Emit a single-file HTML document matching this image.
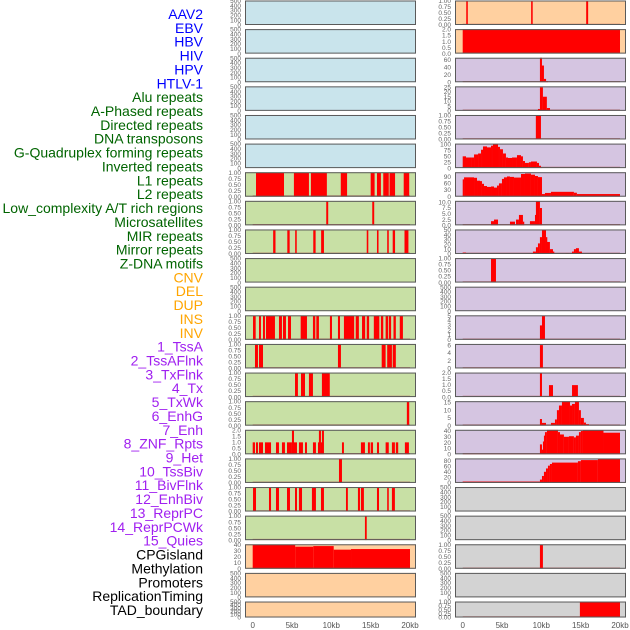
<!DOCTYPE html>
<html><head><meta charset="utf-8">
<style>
html,body{margin:0;padding:0;background:#fff;width:630px;height:630px;overflow:hidden}
svg{display:block}
.lab{font-family:"Liberation Sans",sans-serif;font-size:14px}
.tk{font-family:"Liberation Sans",sans-serif;font-size:6.5px;fill:#666}
.xt{font-family:"Liberation Sans",sans-serif;font-size:8px;fill:#555}
</style></head>
<body>
<svg id="chart" width="630" height="630" viewBox="0 0 630 630"></svg>
<script>
// ---------- labels ----------
const labelNames = ["AAV2","EBV","HBV","HIV","HPV","HTLV-1","Alu repeats","A-Phased repeats","Directed repeats","DNA transposons","G-Quadruplex forming repeats","Inverted repeats","L1 repeats","L2 repeats","Low_complexity A/T rich regions","Microsatellites","MIR repeats","Mirror repeats","Z-DNA motifs","CNV","DEL","DUP","INS","INV","1_TssA","2_TssAFlnk","3_TxFlnk","4_Tx","5_TxWk","6_EnhG","7_Enh","8_ZNF_Rpts","9_Het","10_TssBiv","11_BivFlnk","12_EnhBiv","13_ReprPC","14_ReprPCWk","15_Quies","CPGisland","Methylation","Promoters","ReplicationTiming","TAD_boundary"];
const labelGroups = [6,13,5,15,5];
const groupColors = ["#0000ff","#006400","#ffa500","#a020f0","#000000"];

// ---------- x axis ----------
const xTickValues = [0,5,10,15,20];
const xTickLabels = ["0","5kb","10kb","15kb","20kb"];

// ---------- tick label sets ----------
const T01 = ["0.00","0.25","0.50","0.75","1.00"];
const T500 = ["0","100","200","300","400","500"];
const T2 = ["0.0","0.5","1.0","1.5","2.0"];

// ---------- left column data [startKb, endKb, value] ----------
const leftL1 = [[0.42,3.98,1],[5.24,7.15,1],[7.4,9.43,1],[11.2,12.0,1],[15.0,15.5,1],[15.8,16.3,1],[16.6,17.3,1],[17.4,18.1,1],[19.2,19.9,1]];
const leftL2 = [[9.35,9.6,1],[15.2,15.45,1]];
const leftLowComplex = [[2.6,2.9,1],[4.4,4.7,1],[5.4,5.6,1],[7.7,8.0,1],[8.7,9.06,1],[14.5,14.7,1],[15.8,16.0,1],[17.1,17.3,1],[17.8,18.1,1],[19.3,19.8,1]];
const leftCNV = [[0.04,0.38,1],[0.8,1.05,1],[1.31,1.56,1],[1.69,2.83,1],[3.34,3.72,1],[3.85,4.23,1],[4.49,4.87,1],[6.1,6.9,1],[7.66,7.96,1],[8.09,8.42,1],[9.82,10.08,1],[10.84,11.1,1],[11.6,12.9,1],[13.1,13.5,1],[13.9,14.3,1],[14.5,14.8,1],[15.4,16.1,1],[16.3,16.6,1],[16.9,17.2,1],[17.3,17.6,1],[17.9,18.2,1],[18.7,19.1,1]];
const leftDEL = [[0.29,0.67,1],[0.8,1.31,1],[10.84,11.22,1],[16.4,16.9,1],[17.1,17.7,1],[17.8,18.2,1]];
const leftDUP = [[5.38,5.75,1],[6.14,6.65,1],[7.15,7.66,1],[8.8,9.8,1]];
const leftINS = [[19.6,19.9,1]];
const leftINV = [[0,0.29,1],[0.42,0.67,1],[0.8,1.31,1],[1.56,2.33,1],[2.96,3.34,1],[3.72,4.1,1],[4.36,4.99,1],[4.99,5.25,2],[5.25,5.63,1],[5.88,6.39,1],[6.65,6.9,1],[7.66,8.04,1],[8.3,8.42,1],[8.42,8.68,2],[8.68,8.8,1],[8.8,9.06,2],[11.35,11.6,1],[13.76,14.27,1],[14.65,14.9,1],[15.0,15.3,1],[15.8,16.06,1],[16.9,17.3,1],[17.7,18.08,1],[18.2,18.5,1],[19.35,19.86,1]];
const leftTssAFlnk = [[10.97,11.35,1]];
const leftTxFlnk = [[0.04,0.42,1],[2.07,2.33,1],[2.96,3.34,1],[4.36,4.74,1],[5.38,5.63,1],[5.88,6.27,1],[7.53,8.04,1],[8.68,9.06,1],[11.86,12.1,1],[13.38,13.64,1],[13.76,14.14,1],[15.8,16.06,1],[17.1,17.3,1],[17.7,18.08,1]];
const leftTx = [[14.27,14.5,1]];
const leftCPG = [[0,5.4,40],[5.4,7.7,37],[7.7,10.3,38],[10.3,12.5,32],[12.5,20,33]];

// ---------- right column data ----------
const rightAAV2 = [[0.45,0.65,1],[8.7,8.9,1],[15.7,15.95,1]];
const rightEBV = [[0,20,2.1]];
const rightHBV = [[9.82,10.08,70],[10.08,10.33,45],[10.33,10.6,9],[10.6,10.85,3]];
const rightHIV = [[9.57,9.82,2],[9.82,10.2,25],[10.2,10.7,15],[10.7,11.1,3]];
const rightHPV = [[9.3,9.95,1]];
const rightHTLV = [[0,0.42,50],[0.42,1.06,45],[1.06,1.44,45],[1.44,1.95,58],[1.95,2.33,62],[2.33,2.58,78],[2.58,3.09,92],[3.09,3.6,88],[3.6,3.85,95],[3.85,4.49,102],[4.49,4.74,90],[4.74,5.12,80],[5.12,5.5,62],[5.5,5.76,45],[5.76,6.27,43],[6.27,6.9,45],[6.9,7.41,55],[7.41,7.66,50],[7.66,7.92,30],[7.92,8.42,22],[8.42,8.68,25],[8.68,9.44,28],[9.44,9.7,22],[9.7,9.95,10],[9.95,10.08,4]];
const rightAlu = [[0,0.17,78],[0.17,1.44,87],[1.44,1.82,85],[1.82,2.2,72],[2.2,2.45,70],[2.45,2.71,58],[2.71,3.09,48],[3.09,3.6,44],[3.6,3.98,46],[3.98,4.36,41],[4.36,4.61,50],[4.61,4.99,60],[4.99,5.25,80],[5.25,5.63,87],[5.63,6.01,91],[6.01,6.52,89],[6.52,7.41,86],[7.41,7.92,102],[7.92,8.68,104],[8.68,9.19,99],[9.19,9.57,93],[9.57,10.08,88],[10.08,10.46,12],[10.46,11.22,17],[11.22,14.14,22],[14.14,14.52,18],[14.52,20,12]];
const rightAPhased = [[3.6,3.98,1.8],[3.98,4.49,2.5],[6.01,6.65,1.6],[6.78,7.15,2.5],[7.15,7.66,4.5],[7.66,7.79,1.6],[8.55,9.19,1.8],[9.19,9.31,4.5],[9.31,9.82,10.5],[9.82,10.08,7.5]];
const rightDirected = [[0,0.42,3],[0.42,0.67,1.5],[8.68,8.93,2],[8.93,9.31,5],[9.31,9.57,14],[9.57,9.82,22],[9.82,10.08,35],[10.08,10.59,50],[10.59,10.71,35],[10.71,11.09,25],[11.09,11.48,10],[11.48,11.6,5],[13.1,13.5,2],[13.9,14.14,5],[14.14,14.4,10],[14.4,14.78,12],[14.78,15.16,5]];
const rightDNA = [[3.6,4.23,1]];
const rightInverted = [[9.82,10.08,3],[10.08,10.46,5]];
const rightL1b = [[9.82,10.2,6]];
const rightL2b = [[9.82,10.08,2],[10.97,11.48,1],[13.9,14.65,1]];
const rightLowC = [[9.82,10.08,4.3],[10.08,10.59,1.8],[10.59,11.22,0.5],[11.22,11.73,1.8],[11.73,11.98,4],[11.98,12.24,10],[12.24,12.62,13],[12.62,13.64,15.8],[13.64,13.9,13],[13.9,14.27,14],[14.27,14.78,15.8],[14.78,15.03,10],[15.03,15.41,5],[15.41,15.67,2],[15.67,16.06,1]];
const rightMicro = [[0,9.82,0.5],[9.82,10.08,17],[10.08,10.2,8],[10.2,10.33,22],[10.33,10.46,32],[10.46,10.71,38],[10.71,12.11,42],[12.11,12.37,38],[12.37,12.87,34],[12.87,13.51,30],[13.51,14.14,31],[14.14,14.4,29],[14.4,14.78,32],[14.78,15.03,38],[15.03,15.29,40],[15.29,17.9,41],[17.9,20,37]];
const rightMIR = [[0,9.82,5],[9.82,10.08,12],[10.08,10.33,25],[10.33,10.59,40],[10.59,10.84,52],[10.84,11.09,62],[11.09,11.35,68],[11.35,14.65,73],[14.65,15.03,78],[15.03,17.19,82],[17.19,20,86]];
const rightMethyl = [[9.82,10.2,1]];
const rightTAD = [[14.9,20,1]];

// ---------- panel specs ----------
const BG = {blue:"#c9e4ec",green:"#c8e0a5",orange:"#ffd0a0",purple:"#d5c5e1",gray:"#d3d3d3"};
const leftPanels = [
 {n:"aav2",bg:"blue",t:T500,m:510,d:null},
 {n:"ebv",bg:"blue",t:T500,m:510,d:null},
 {n:"hbv",bg:"blue",t:T500,m:510,d:null},
 {n:"hiv",bg:"blue",t:T500,m:510,d:null},
 {n:"hpv",bg:"blue",t:T500,m:510,d:null},
 {n:"htlv",bg:"blue",t:T500,m:510,d:null},
 {n:"l1",bg:"green",t:T01,m:1.02,d:leftL1},
 {n:"l2",bg:"green",t:T01,m:1.02,d:leftL2},
 {n:"low-complexity",bg:"green",t:T01,m:1.02,d:leftLowComplex},
 {n:"empty-1",bg:"green",t:T500,m:510,d:null},
 {n:"empty-2",bg:"green",t:T500,m:510,d:null},
 {n:"cnv",bg:"green",t:T01,m:1.02,d:leftCNV},
 {n:"del",bg:"green",t:T01,m:1.02,d:leftDEL},
 {n:"dup",bg:"green",t:T01,m:1.02,d:leftDUP},
 {n:"ins",bg:"green",t:T01,m:1.02,d:leftINS},
 {n:"inv",bg:"green",t:T2,m:2.05,d:leftINV},
 {n:"tssaflnk",bg:"green",t:T01,m:1.02,d:leftTssAFlnk},
 {n:"txflnk",bg:"green",t:T01,m:1.02,d:leftTxFlnk},
 {n:"tx",bg:"green",t:T01,m:1.02,d:leftTx},
 {n:"cpg",bg:"orange",t:["0","10","20","30","40"],m:41,d:leftCPG},
 {n:"promoters",bg:"orange",t:T500,m:510,d:null},
 {n:"tad",bg:"orange",t:T500,m:510,d:null}
];
const rightPanels = [
 {n:"aav2",bg:"orange",t:T01,m:1.02,d:rightAAV2},
 {n:"ebv",bg:"orange",t:T2,m:2.05,d:rightEBV},
 {n:"hbv",bg:"purple",t:["0","20","40","60"],m:66,d:rightHBV},
 {n:"hiv",bg:"purple",t:["0","5","10","15","20","25"],m:26,d:rightHIV},
 {n:"hpv",bg:"purple",t:T01,m:1.02,d:rightHPV},
 {n:"htlv",bg:"purple",t:["0","25","50","75","100"],m:104,d:rightHTLV},
 {n:"alu",bg:"purple",t:["0","30","60","90"],m:110,d:rightAlu},
 {n:"aphased",bg:"purple",t:["0.0","2.5","5.0","7.5","10.0"],m:10.6,d:rightAPhased},
 {n:"directed",bg:"purple",t:["0","10","20","30","40","50"],m:51,d:rightDirected},
 {n:"dna",bg:"purple",t:T01,m:1.02,d:rightDNA},
 {n:"gquad",bg:"purple",t:T500,m:510,d:null},
 {n:"inverted",bg:"purple",t:["0","1","2","3","4","5"],m:5.1,d:rightInverted},
 {n:"l1",bg:"purple",t:["0","2","4","6"],m:6.3,d:rightL1b},
 {n:"l2",bg:"purple",t:T2,m:2.05,d:rightL2b},
 {n:"lowc",bg:"purple",t:["0","5","10","15"],m:15.8,d:rightLowC},
 {n:"micro",bg:"purple",t:["0","10","20","30","40"],m:42,d:rightMicro},
 {n:"mir",bg:"purple",t:["0","20","40","60","80"],m:88,d:rightMIR},
 {n:"empty-1",bg:"gray",t:T500,m:510,d:null},
 {n:"empty-2",bg:"gray",t:T500,m:510,d:null},
 {n:"methylation",bg:"gray",t:T01,m:1.02,d:rightMethyl},
 {n:"empty-3",bg:"gray",t:T500,m:510,d:null},
 {n:"tad",bg:"gray",t:T01,m:1.02,d:rightTAD}
];

// ---------- geometry ----------
const NS = "http://www.w3.org/2000/svg";
const svg = document.getElementById("chart");
const COLS = [{x0:245,x1:416,d0:252.7,tx:241,name:"left"},{x0:455,x1:626,d0:462.7,tx:451,name:"right"}];
const KBPX = 7.865;
function xScale(col,kb){return col.d0 + kb*KBPX;}
function rowTop(i){return 0.5 + i*28.62;}
function rowH(i){return i===21?16:24.5;}
function yScale(i,v,m){const b=rowTop(i)+rowH(i);return b - (v/m)*rowH(i);}
function mk(tag,attrs){const e=document.createElementNS(NS,tag);for(const k in attrs)e.setAttribute(k,attrs[k]);return e;}

// labels
let li=0;
labelGroups.forEach((cnt,g)=>{
  for(let j=0;j<cnt;j++){
    const t=mk("text",{x:203,y:19+li*13.86,"text-anchor":"end",class:"lab",fill:groupColors[g]});
    
    
    t.textContent=labelNames[li];
    svg.appendChild(t);li++;
  }
});

// panels
[leftPanels,rightPanels].forEach((panels,ci)=>{
  const col=COLS[ci];
  panels.forEach((p,i)=>{
    const g=mk("g",{});
    
    
    const top=rowTop(i),h=rowH(i);
    const bg=mk("rect",{x:col.x0,y:top,width:col.x1-col.x0,height:h,fill:BG[p.bg]});
    
    
    g.appendChild(bg);
    const cid="c"+ci+"_"+i;
    const cp=mk("clipPath",{id:cid});cp.appendChild(mk("rect",{x:col.x0,y:top,width:col.x1-col.x0,height:h}));g.appendChild(cp);
    if(p.d){
      const bl=mk("line",{x1:xScale(col,0),x2:xScale(col,20),y1:top+h-0.7,y2:top+h-0.7,stroke:"#b04848","stroke-width":1.2,opacity:0.7});
      
      
      g.appendChild(bl);
      p.d.forEach(s=>{
        const x=xScale(col,s[0]),w=Math.max(1.3,xScale(col,s[1])-x),y=yScale(i,s[2],p.m);
        const r=mk("rect",{x:x,y:y,width:w,height:top+h-y,fill:"#ff0000","clip-path":"url(#"+cid+")"});
        
        
        g.appendChild(r);
      });
    }
    const br=mk("rect",{x:col.x0+0.5,y:top+0.5,width:col.x1-col.x0-1,height:h-1,fill:"none",stroke:"#5a5a5a","stroke-width":1});
    
    
    g.appendChild(br);
    const n=p.t.length;
    p.t.forEach((lab,k)=>{
      const v=(p.m*0.985)*k/(n-1)*( (n-1)/(n-1) );
      const val=parseFloat(lab);
      const maxT=parseFloat(p.t[n-1]);
      const yy=yScale(i,val/maxT*(p.m*(maxT/p.m>0.97?0.985:maxT/p.m)),p.m);
      const t=mk("text",{x:col.tx,y:yy+2.2,"text-anchor":"end",class:"tk"});
      
      
      t.textContent=lab;g.appendChild(t);
    });
    svg.appendChild(g);
  });
  xTickValues.forEach((v,k)=>{
    const t=mk("text",{x:xScale(col,v),y:628,"text-anchor":"middle",class:"xt"});
    
    
    t.textContent=xTickLabels[k];svg.appendChild(t);
  });
});
</script>
</body></html>
